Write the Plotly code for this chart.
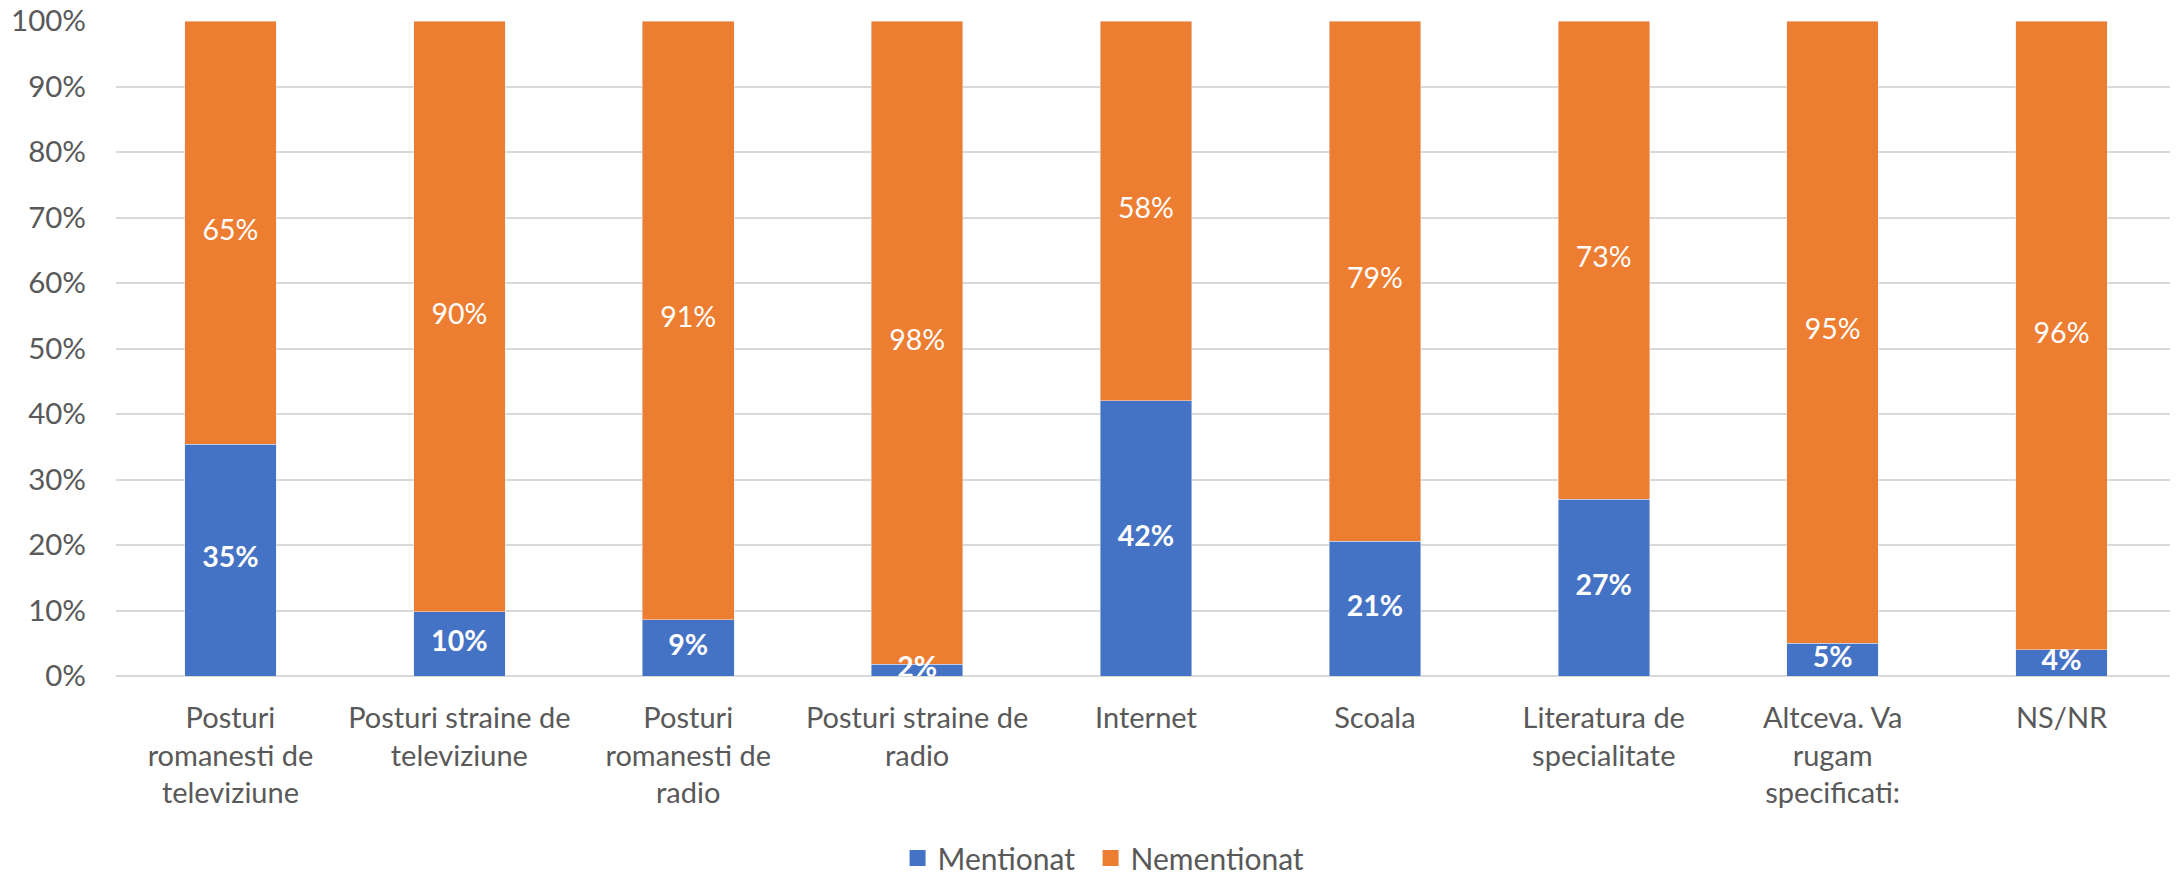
import plotly.graph_objects as go

categories = [
    "Posturi<br>romanesti de<br>televiziune",
    "Posturi straine de<br>televiziune",
    "Posturi<br>romanesti de<br>radio",
    "Posturi straine de<br>radio",
    "Internet",
    "Scoala",
    "Literatura de<br>specialitate",
    "Altceva. Va<br>rugam<br>specificati:",
    "NS/NR",
]
mentionat = [35.4, 9.8, 8.6, 1.8, 42.0, 20.6, 27.0, 5.0, 4.0]
nementionat = [64.6, 90.2, 91.4, 98.2, 58.0, 79.4, 73.0, 95.0, 96.0]
y_ticks = list(range(0, 101, 10))

BLUE = "#4472C4"
ORANGE = "#ED7D31"
GREY = "#595959"
FONT = "Lato, 'Noto Sans', sans-serif"

fig = go.Figure()
fig.add_trace(go.Bar(x=categories, y=mentionat, name="Mentionat", marker_color=BLUE,
                     showlegend=False))
fig.add_trace(go.Bar(x=categories, y=nementionat, name="Nementionat", marker_color=ORANGE,
                     showlegend=False))

# data labels centred in each segment
mid_m = [v / 2 for v in mentionat]
mid_n = [m + v / 2 for m, v in zip(mentionat, nementionat)]
fig.add_trace(go.Scatter(
    x=categories, y=mid_m, mode="text", text=[f"{v:.0f}%" for v in mentionat],
    textfont=dict(color="white", size=28.5, family=FONT, weight="bold"),
    showlegend=False, hoverinfo="skip", cliponaxis=True))
fig.add_trace(go.Scatter(
    x=categories, y=mid_n, mode="text", text=[f"{v:.0f}%" for v in nementionat],
    textfont=dict(color="white", size=28.5, family=FONT),
    showlegend=False, hoverinfo="skip", cliponaxis=True))

# legend entries with bigger square swatches (Excel style), one legend each
fig.add_trace(go.Scatter(x=[None], y=[None], mode="markers", name="Mentionat",
                         marker=dict(symbol="square", size=18, color=BLUE), legend="legend"))
fig.add_trace(go.Scatter(x=[None], y=[None], mode="markers", name="Nementionat",
                         marker=dict(symbol="square", size=18, color=ORANGE), legend="legend2"))

leg = dict(orientation="h", xanchor="left", yref="container", y=0.0252, yanchor="middle",
           font=dict(size=30, color=GREY), itemwidth=30, bgcolor="rgba(0,0,0,0)")

# page body has an 8px margin, so the figure is shifted 8px right/down in the window
fig.update_layout(
    barmode="stack",
    bargap=0.6,
    width=2170,
    height=872,
    margin=dict(l=108, r=2, t=13, b=204),
    plot_bgcolor="white",
    paper_bgcolor="white",
    font=dict(family=FONT, size=29, color=GREY),
    legend=dict(leg, x=0.3794),
    legend2=dict(leg, x=0.4731),
)
fig.update_xaxes(showgrid=False, showline=False, ticks="", tickfont=dict(size=29, color=GREY),
                 ticklabelstandoff=22, automargin=False)
fig.update_yaxes(range=[0, 100], tickvals=y_ticks, ticktext=[f"{t}%" for t in y_ticks],
                 showgrid=True, gridcolor="#D9D9D9", gridwidth=1.5, zeroline=True,
                 zerolinecolor="#D9D9D9", zerolinewidth=1.5, ticks="", ticklabelstandoff=29,
                 tickfont=dict(size=29.5, color=GREY), automargin=False,
                 ticklabeloverflow="allow")

fig.write_html("out.html")
